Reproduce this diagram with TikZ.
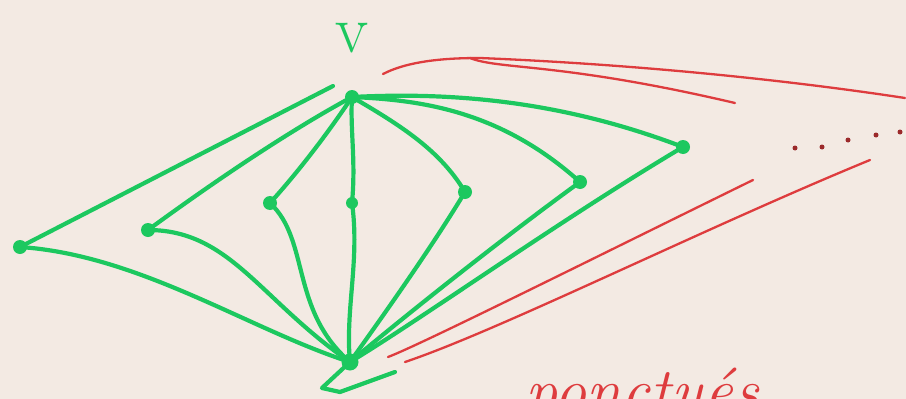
\documentclass[tikz,border=0pt]{standalone}
\usepackage{fontspec}
\definecolor{bg}{RGB}{243,234,227}
\definecolor{gr}{RGB}{28,200,95}
\definecolor{rd}{RGB}{222,60,62}
\begin{document}
\begin{tikzpicture}[x=1pt,y=-1pt,
  vtx/.style={circle,fill=gr,inner sep=0pt,minimum size=14pt},
  gedge/.style={draw=gr,line width=4.2pt,line cap=round,line join=round},
  redge/.style={draw=rd,line width=2.3pt,line cap=round},
  rdot/.style={circle,fill=rd!70!black,inner sep=0pt,minimum size=5pt}]
\fill[bg] (0,0) rectangle (906,399);
\useasboundingbox (0,0) rectangle (906,399);
% vertices
\node[vtx] (v) at (352,97) {};
\node[vtx] (a) at (20,247) {};
\node[vtx] (b) at (148,230) {};
\node[vtx] (c) at (270,203) {};
\node[vtx,minimum size=12pt] (d) at (352,203) {};
\node[vtx] (e) at (465,192) {};
\node[vtx] (f) at (580,182) {};
\node[vtx] (g) at (683,147) {};
\node[vtx,minimum size=17pt] (w) at (350,362) {};
% label
\node[text=gr,font=\fontsize{68}{68}\selectfont,inner sep=0pt] (lv) at (352,38) {v};
% edges from v
\draw[gedge] (a.center) -- (333,86);
\draw[gedge] (b.center) .. controls (230,170) and (300,125) .. (v.center);
\draw[gedge] (c.center) .. controls (300,170) and (330,130) .. (v.center);
\draw[gedge] (d.center) .. controls (356,160) and (350,130) .. (v.center);
\draw[gedge] (v.center) .. controls (400,125) and (440,150) .. (e.center);
\draw[gedge] (v.center) .. controls (420,100) and (500,110) .. (f.center);
\draw[gedge] (v.center) .. controls (450,92) and (560,100) .. (g.center);
% edges to w
\draw[gedge] (a.center) .. controls (140,255) and (250,330) .. (w.center);
\draw[gedge] (b.center) .. controls (230,230) and (260,300) .. (w.center);
\draw[gedge] (c.center) .. controls (310,240) and (290,310) .. (w.center);
\draw[gedge] (d.center) .. controls (360,260) and (345,310) .. (w.center);
\draw[gedge] (e.center) .. controls (430,250) and (380,320) .. (w.center);
\draw[gedge] (f.center) .. controls (500,240) and (400,320) .. (w.center);
\draw[gedge] (g.center) .. controls (560,220) and (420,320) .. (w.center);
% scribble below w
\coordinate (s1) at (322,388);
\coordinate (s2) at (395,372);
\draw[gedge] (w.center) -- (s1) -- (340,392) -- (s2);
% red lines
\coordinate (r1) at (383,74);
\coordinate (r2) at (905,98);
\coordinate (r3) at (735,103);
\draw[redge] (r1) .. controls (410,60) and (450,58) .. (480,58) .. controls (650,65) and (800,82) .. (r2);
\draw[redge] (470,58) .. controls (500,70) and (560,62) .. (r3);
\coordinate (r4) at (388,357);
\coordinate (r5) at (753,180);
\coordinate (r6) at (405,362);
\coordinate (r7) at (870,160);
\draw[redge] (r4) .. controls (420,345) and (600,255) .. (r5);
\draw[redge] (r6) .. controls (500,330) and (700,230) .. (r7);
% dots
\node[rdot] (d1) at (795,148) {};
\node[rdot] (d2) at (822,147) {};
\node[rdot] (d3) at (848,140) {};
\node[rdot] (d4) at (876,135) {};
\node[rdot] (d5) at (900,132) {};
% bottom text (cut off at the lower edge, as in the reference)
\begin{scope}
\clip (0,0) rectangle (906,399);
\node[text=rd,font=\fontsize{64}{64}\selectfont\itshape,anchor=base west] (t) at (522,412) {ponctués};
\end{scope}
\end{tikzpicture}
\end{document}
